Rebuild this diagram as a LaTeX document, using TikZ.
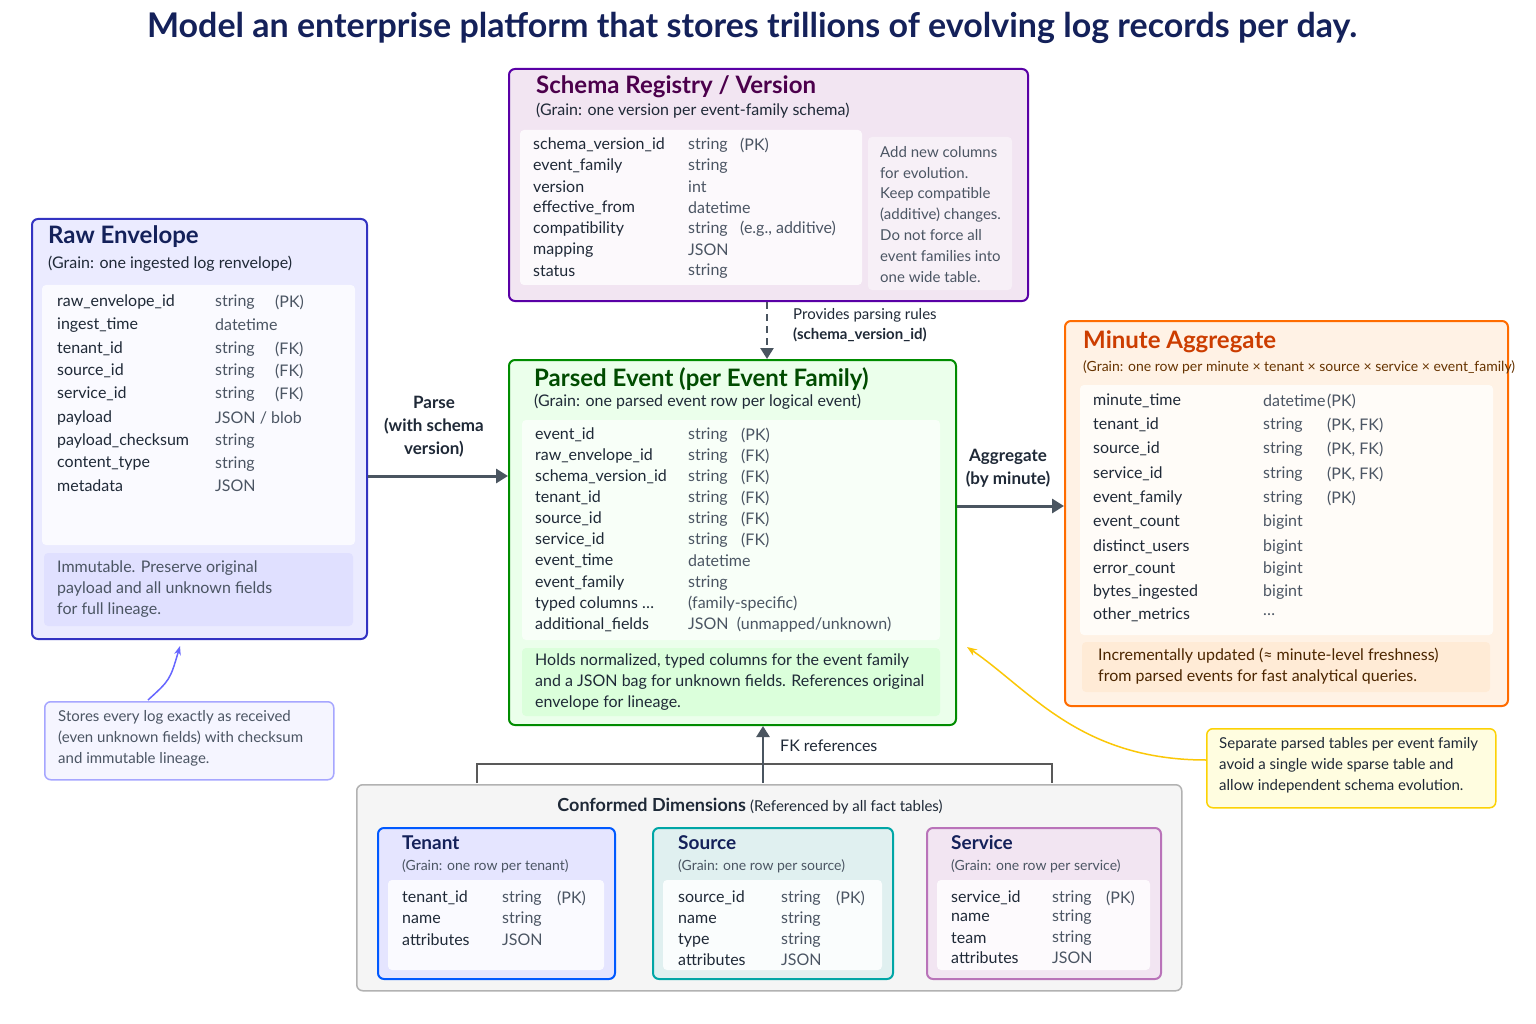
\documentclass[tikz,border=0pt]{standalone}
\usepackage{fontspec}
\setmainfont{Lato}
\usetikzlibrary{arrows.meta}
\definecolor{navy}{HTML}{14215A}
\definecolor{ink}{HTML}{1F2937}
\definecolor{gr}{HTML}{4B5563}
\definecolor{conn}{HTML}{4A5560}
\begin{document}
\begin{tikzpicture}[x=1pt,y=-1pt,
  box/.style={draw,rounded corners=6,line width=2pt},
  panel/.style={rounded corners=4,draw=none},
  txt/.style={anchor=west,inner sep=0pt,font=\fontsize{16}{19}\selectfont,text=ink},
  typ/.style={anchor=west,inner sep=0pt,font=\fontsize{16}{19}\selectfont,text=gr},
  btitle/.style={anchor=west,inner sep=0pt,font=\fontsize{24}{28}\selectfont\bfseries},
  dtitle/.style={anchor=west,inner sep=0pt,font=\fontsize{19}{22}\selectfont\bfseries,text=navy},
  lab/.style={align=center,inner sep=0pt,font=\fontsize{17}{23}\selectfont\bfseries,text=ink},
  arr/.style={draw=conn,line width=3pt,-{Triangle[length=12pt,width=14pt]}}]
\useasboundingbox (0,0) rectangle (1536,1024);
\fill[white] (0,0) rectangle (1536,1024);
\node[font=\fontsize{34}{40}\selectfont\bfseries,text=navy] (title) at (752,28) {Model an enterprise platform that stores trillions of evolving log records per day.};
% rows macro
\newcommand\myrows[4]{\foreach \y/\a/\b/\c in {#4}{
  \node[txt] at (#1,\y) {\a}; \node[typ] at (#2,\y) {\b}; \node[typ] at (#3,\y) {\c};}}
% Schema registry
\node[box,draw=violet!70!blue,fill=violet!10,minimum width=519,minimum height=232,anchor=north west] (schema) at (508,68) {};
\fill[panel,white!55!violet!5] (520,130) rectangle (862,285);
\fill[panel,white!40!violet!10] (868,137) rectangle (1012,290);
\node[btitle,text=violet!60!black] at (536,87) {Schema Registry / Version};
\node[txt] at (536,111) {(Grain: one version per event-family schema)};
\myrows{533}{688}{740}{145/schema\_version\_id/string/(PK),166/event\_family/string/{},187/version/int/{},208/effective\_from/datetime/{},229/compatibility/string/{(e.g., additive)},250/mapping/JSON/{},271/status/string/{}}
\node[typ,anchor=north west,align=left,font=\fontsize{15}{20.8}\selectfont] (snote) at (880,146) {Add new columns\\for evolution.\\Keep compatible\\(additive) changes.\\Do not force all\\event families into\\one wide table.};
% Raw envelope
\node[box,draw=blue!70!black!80,fill=blue!8,minimum width=335,minimum height=420,anchor=north west] (raw) at (31,218) {};
\fill[panel,white!60!blue!5] (42,285) rectangle (355,545);
\fill[panel,blue!12] (44,553) rectangle (353,626);
\node[btitle,text=navy] at (48,237) {Raw Envelope};
\node[txt] at (48,264) {(Grain: one ingested log renvelope)};
\myrows{57}{215}{275}{302/raw\_envelope\_id/string/(PK),325/ingest\_time/datetime/{},349/tenant\_id/string/(FK),371/source\_id/string/(FK),394/service\_id/string/(FK),418/payload/{JSON / blob}/{},441/payload\_checksum/string/{},464/content\_type/string/{},486/metadata/JSON/{}}
\node[typ,anchor=north west,align=left,font=\fontsize{16}{21}\selectfont] at (57,561) {Immutable. Preserve original\\payload and all unknown fields\\for full lineage.};
% Parsed event
\node[box,draw=green!55!black,fill=green!8,minimum width=447,minimum height=365,anchor=north west] (parsed) at (508,359) {};
\fill[panel,white!55!green!6] (522,420) rectangle (940,640);
\fill[panel,green!14] (522,648) rectangle (940,716);
\node[btitle,text=green!30!black] at (534,379) {Parsed Event (per Event Family)};
\node[txt] at (534,402) {(Grain: one parsed event row per logical event)};
\myrows{535}{688}{741}{435/event\_id/string/(PK),456/raw\_envelope\_id/string/(FK),477/schema\_version\_id/string/(FK),498/tenant\_id/string/(FK),519/source\_id/string/(FK),540/service\_id/string/(FK),561/event\_time/datetime/{},583/event\_family/string/{},604/{typed columns \ldots}/{(family-specific)}/{},625/additional\_fields/{JSON~~(unmapped/unknown)}/{}}
\node[txt,anchor=north west,align=left,font=\fontsize{16}{21}\selectfont] at (535,654) {Holds normalized, typed columns for the event family\\and a JSON bag for unknown fields. References original\\envelope for lineage.};
% Minute aggregate
\node[box,draw=orange!85!red,fill=orange!10,minimum width=443,minimum height=385,anchor=north west] (agg) at (1064,320) {};
\fill[panel,white!55!orange!6] (1080,385) rectangle (1493,635);
\fill[panel,orange!16] (1082,642) rectangle (1490,692);
\node[btitle,text=orange!60!red!80!black] at (1083,342) {Minute Aggregate};
\node[txt,font=\fontsize{14}{17}\selectfont,text=orange!40!black] at (1083,367) {(Grain: one row per minute × tenant × source × service × event\_family)};
\myrows{1093}{1263}{1327}{401/minute\_time/datetime/(PK),425/tenant\_id/string/{(PK, FK)},449/source\_id/string/{(PK, FK)},474/service\_id/string/{(PK, FK)},498/event\_family/string/(PK),522/event\_count/bigint/{},547/distinct\_users/bigint/{},569/error\_count/bigint/{},592/bytes\_ingested/bigint/{},615/other\_metrics/{\ldots}/{}}
\node[txt,anchor=north west,align=left,font=\fontsize{16}{21}\selectfont,text=orange!30!black] at (1098,648) {Incrementally updated (≈ minute-level freshness)\\from parsed events for fast analytical queries.};
% callouts
\node[box,line width=1.5pt,draw=blue!35,fill=blue!4,minimum width=289,minimum height=78,anchor=north west] (c1) at (44,701) {};
\node[typ,anchor=north west,align=left,font=\fontsize{15}{21}\selectfont] at (58,710) {Stores every log exactly as received\\(even unknown fields) with checksum\\and immutable lineage.};
\coordinate (c1a) at (148,700);
\draw[blue!60,line width=1.5pt,-{Stealth[length=9pt]}] (c1a) .. controls (170,680) .. (180,646);
\node[box,line width=1.5pt,draw=yellow!70!orange,fill=yellow!12,minimum width=289,minimum height=79,anchor=north west] (c2) at (1206,728) {};
\node[typ,anchor=north west,align=left,font=\fontsize{15}{21}\selectfont,text=ink] at (1219,737) {Separate parsed tables per event family\\avoid a single wide sparse table and\\allow independent schema evolution.};
\coordinate (c2a) at (1206,760); \coordinate (c2b) at (967,647);
\draw[yellow!60!orange,line width=1.5pt,-{Stealth[length=10pt]}] (c2a) .. controls (1080,760) and (1030,690) .. (c2b);
% dimensions
\node[box,line width=1.5pt,draw=gray!60,fill=gray!8,minimum width=825,minimum height=206,anchor=north west] (dims) at (356,784) {};
\node[inner sep=0pt,text=ink] (dimt) at (750,806) {\fontsize{18}{22}\selectfont\bfseries Conformed Dimensions \fontsize{15}{18}\selectfont\mdseries(Referenced by all fact tables)};
\node[box,draw=blue!65!cyan,fill=blue!10,minimum width=237,minimum height=151,anchor=north west] (ten) at (377,827) {};
\fill[panel,white!70!blue!6] (388,880) rectangle (604,970);
\node[dtitle] at (402,843) {Tenant};
\node[txt,font=\fontsize{14}{17}\selectfont,text=gr] at (402,866) {(Grain: one row per tenant)};
\myrows{402}{502}{557}{898/tenant\_id/string/(PK),919/name/string/{},940/attributes/JSON/{}}
\node[box,draw=teal!70!cyan,fill=teal!12,minimum width=240,minimum height=151,anchor=north west] (src) at (652,827) {};
\fill[panel,white!70!teal!6] (663,880) rectangle (882,970);
\node[dtitle] at (678,843) {Source};
\node[txt,font=\fontsize{14}{17}\selectfont,text=gr] at (678,866) {(Grain: one row per source)};
\myrows{678}{781}{836}{898/source\_id/string/(PK),919/name/string/{},940/type/string/{},960/attributes/JSON/{}}
\node[box,draw=violet!55,fill=violet!10,minimum width=234,minimum height=151,anchor=north west] (svc) at (926,827) {};
\fill[panel,white!70!violet!6] (937,880) rectangle (1150,970);
\node[dtitle] at (951,843) {Service};
\node[txt,font=\fontsize{14}{17}\selectfont,text=gr] at (951,866) {(Grain: one row per service)};
\myrows{951}{1052}{1106}{898/service\_id/string/(PK),917/name/string/{},938/team/string/{},958/attributes/JSON/{}}
% connectors
\draw[arr] (raw.east|-0,476) -- (parsed.west|-0,476);
\node[lab] (plab) at (434,427) {Parse\\(with schema\\version)};
\draw[arr] (parsed.east|-0,506) -- (agg.west|-0,506);
\node[lab] (alab) at (1008,468) {Aggregate\\(by minute)};
\draw[conn,line width=2.5pt,dash pattern=on 7pt off 5pt,-{Triangle[length=11pt,width=13pt]}] (schema.south-|767,0) -- (parsed.north-|767,0);
\node[txt,anchor=north west,align=left,font=\fontsize{15}{20}\selectfont] (slab) at (793,308) {Provides parsing rules\\\textbf{(schema\_version\_id)}};
\coordinate (bl) at (477,783); \coordinate (br) at (1052,783); \coordinate (bm) at (763,783);
\draw[gray!70!black,line width=2pt] (bl) -- (477,764) -- (1052,764) -- (br);
\draw[conn,line width=2.5pt,-{Triangle[length=11pt,width=13pt]}] (bm) -- (parsed.south-|bm);
\node[txt,font=\fontsize{16}{19}\selectfont] (fk) at (780,746) {FK references};
\end{tikzpicture}
\end{document}
